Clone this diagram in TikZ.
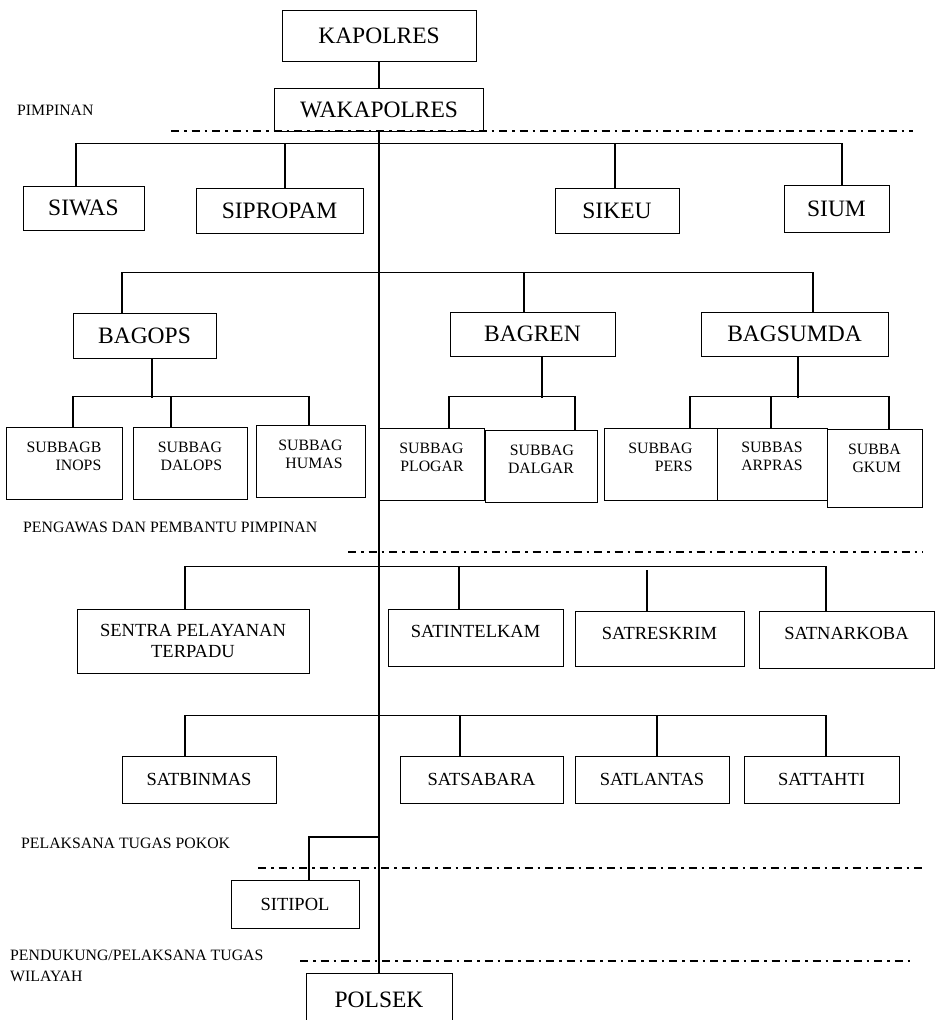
\documentclass[tikz,border=0pt]{standalone}
\usepackage{fontspec}
\setmainfont{Liberation Serif}
\usetikzlibrary{positioning,calc}
% extra depth below the text, so it sits higher in its box
\newcommand\padbelow[1]{\rule[-#1]{0pt}{#1}}

\begin{document}
\begin{tikzpicture}[x=1pt,y=-1pt,
    box/.style={draw,line width=1pt,inner sep=0pt,align=center},
    sz/.style 2 args={minimum width=#1pt,minimum height=#2pt},
    big/.style={box,font=\fontsize{23.5}{28}\selectfont},
    mid/.style={box,font=\fontsize{18.5}{21}\selectfont},
    sub/.style={box,align=right,font=\fontsize{15.8}{18}\selectfont},
    lbl/.style={anchor=west,inner sep=0pt,align=left,font=\fontsize{15.8}{21}\selectfont},
    link/.style={line width=1.6pt},
    sep/.style={line width=1.6pt,dash pattern=on 8pt off 5pt on 2.5pt off 5pt}]
    \useasboundingbox (0,0) rectangle (935,1020);

    % pimpinan
    \node[big,sz={194}{51}] (kapolres) at (379,35.5) {KAPOLRES};
    \node[big,sz={209}{43}] (wakapolres) at (379,109.5) {WAKAPOLRES};
    \node[big,sz={146}{54}] (polsek) at (379,1000) {POLSEK};
    \draw[link] (kapolres.south)--(wakapolres.north);
    \draw[link] (wakapolres.south)--(polsek.north);

    % labels of the levels
    \node[lbl] (lpimpinan) at (17,110) {PIMPINAN};
    \node[lbl] (lpengawas) at (23,527) {PENGAWAS DAN PEMBANTU PIMPINAN};
    \node[lbl] (lpelaksana) at (21,843) {PELAKSANA TUGAS POKOK};
    \node[lbl] (lpendukung) at (10,965.5) {PENDUKUNG/PELAKSANA TUGAS\\WILAYAH};

    \draw[sep] (171,131)--(913,131);
    \draw[sep] (348,552)--(923,552);
    \draw[sep] (258,868)--(923,868);
    \draw[sep] (300,961)--(911,961);

    % si
    \node[big,sz={121}{44}] (siwas) at (83.5,208) {SIWAS};
    \node[big,sz={167}{45}] (sipropam) at (279.5,210.5) {SIPROPAM};
    \node[big,sz={124}{45}] (sikeu) at (617,210.5) {SIKEU};
    \node[big,sz={105}{47}] (sium) at (836.5,208.5) {SIUM};
    \draw[link] ([xshift=-7.5pt]siwas.north)--++(0,-42)-|([xshift=5.5pt]sium.north);
    \draw[link] ([xshift=5.5pt]sipropam.north)--++(0,-44);
    \draw[link] ([xshift=-2pt]sikeu.north)--++(0,-44);

    % bag
    \node[big,sz={143}{45}] (bagops) at (144.5,335.5) {BAGOPS};
    \node[big,sz={165}{44}] (bagren) at (532.5,334) {BAGREN};
    \node[big,sz={187}{44}] (bagsumda) at (794.5,334) {BAGSUMDA};
    \draw[link] ([xshift=-22.5pt]bagops.north)--++(0,-40)-|([xshift=18.5pt]bagsumda.north);
    \draw[link] ([xshift=-8.5pt]bagren.north)--++(0,-39);

    % subbag bagops
    \node[sub,sz={116}{72}] (sbinops) at (64,463) {SUBBAGB\\INOPS\padbelow{14pt}};
    \node[sub,sz={114}{72}] (sbdalops) at (190,463) {SUBBAG\\DALOPS\padbelow{14pt}};
    \node[sub,sz={109}{72}] (sbhumas) at (310.5,461) {SUBBAG\\HUMAS\padbelow{14pt}};
    \draw[link] ([xshift=7.5pt]bagops.south)--++(0,39);
    \draw[link] ([xshift=9pt]sbinops.north)--++(0,-30)-|([xshift=-1.5pt]sbhumas.north);
    \draw[link] ([xshift=-19pt]sbdalops.north)--++(0,-30);

    % subbag bagren
    \node[sub,sz={105}{72}] (sbplogar) at (431.5,464) {SUBBAG\\PLOGAR\padbelow{14pt}};
    \node[sub,sz={112}{72}] (sbdalgar) at (541,466) {SUBBAG\\DALGAR\padbelow{14pt}};
    \draw[link] ([xshift=9.5pt]bagren.south)--++(0,41);
    \draw[link] ([xshift=17.5pt]sbplogar.north)--++(0,-31)-|([xshift=34pt]sbdalgar.north);

    % subbag bagsumda
    \node[sub,sz={113}{72}] (sbpers) at (660.5,464) {SUBBAG\\PERS\padbelow{14pt}};
    \node[sub,sz={110}{72}] (sbarpras) at (772,464) {SUBBAS\\ARPRAS\padbelow{16pt}};
    \node[sub,sz={95}{78}] (sbgkum) at (874.5,468) {SUBBA\\GKUM\padbelow{20pt}};
    \draw[link] ([xshift=3.5pt]bagsumda.south)--++(0,41);
    \draw[link] ([xshift=29.5pt]sbpers.north)--++(0,-31)-|([xshift=14.5pt]sbgkum.north);
    \draw[link] ([xshift=-1pt]sbarpras.north)--++(0,-31);

    % sat, first row
    \node[mid,sz={232}{64}] (sentra) at (193,641) {SENTRA PELAYANAN\\TERPADU};
    \node[mid,sz={175}{57}] (satintelkam) at (475.5,637.5) {SATINTELKAM\padbelow{13pt}};
    \node[mid,sz={169}{55}] (satreskrim) at (659.5,638.5) {SATRESKRIM\padbelow{11pt}};
    \node[mid,sz={175}{57}] (satnarkoba) at (846.5,639.5) {SATNARKOBA\padbelow{13pt}};
    \draw[link] ([xshift=-8pt]sentra.north)--++(0,-42)-|([xshift=-20.5pt]satnarkoba.north);
    \draw[link] ([xshift=-16.5pt]satintelkam.north)--++(0,-42);
    \draw[link] ([xshift=-12.5pt]satreskrim.north)--++(0,-41);

    % sat, second row
    \node[mid,sz={154}{47}] (satbinmas) at (199,779.5) {SATBINMAS};
    \node[mid,sz={163}{47}] (satsabara) at (481.5,779.5) {SATSABARA};
    \node[mid,sz={154}{47}] (satlantas) at (652,779.5) {SATLANTAS};
    \node[mid,sz={155}{47}] (sattahti) at (821.5,779.5) {SATTAHTI};
    \draw[link] ([xshift=-14pt]satbinmas.north)--++(0,-40)-|([xshift=4.5pt]sattahti.north);
    \draw[link] ([xshift=-21.5pt]satsabara.north)--++(0,-40);
    \draw[link] ([xshift=5pt]satlantas.north)--++(0,-40);

    % sitipol
    \node[mid,sz={128}{48}] (sitipol) at (295,904) {SITIPOL};
    \coordinate (tap) at (379,837);
    \draw[link] ([xshift=14pt]sitipol.north)|-(tap);
\end{tikzpicture}
\end{document}
